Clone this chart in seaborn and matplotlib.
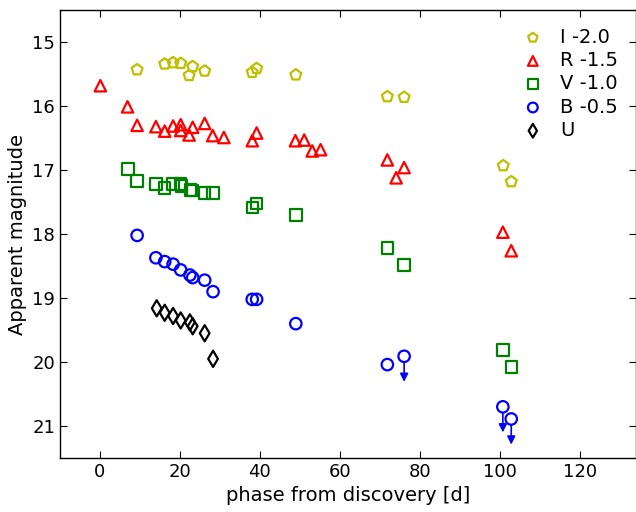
import numpy as np
import pandas as pd
import matplotlib
matplotlib.use('Agg')
import matplotlib.pyplot as plt
import seaborn as sns

# Photometry (offset magnitudes)
i_phase = [9.3, 16.2, 18.3, 20.2, 23.2, 22.3, 26.2, 38.1, 39.2, 49.0, 71.9, 76.1, 100.9, 102.9]
i_mag = [15.43, 15.34, 15.32, 15.33, 15.38, 15.52, 15.45, 15.47, 15.41, 15.51, 15.85, 15.86, 16.93, 17.18]

r_phase = [0.1, 6.9, 9.3, 14.0, 16.2, 18.3, 20.2, 20.2, 23.2, 22.3, 26.2, 28.2, 31.0, 38.1, 39.2,
           48.9, 51.1, 53.1, 55.2, 71.9, 76.1, 74.1, 100.8, 102.9]
r_mag = [15.68, 16.01, 16.30, 16.32, 16.39, 16.31, 16.29, 16.38, 16.33, 16.45, 16.27, 16.46, 16.49,
         16.54, 16.42, 16.54, 16.53, 16.70, 16.68, 16.84, 16.96, 17.12, 17.97, 18.26]

v_phase = [7.0, 9.3, 14.0, 16.1, 18.3, 20.2, 20.4, 22.7, 23.2, 26.1, 28.3, 38.1, 39.2, 49.0,
           71.9, 76.1, 100.8, 102.9]
v_mag = [16.98, 17.17, 17.22, 17.28, 17.22, 17.22, 17.25, 17.31, 17.32, 17.36, 17.36, 17.58, 17.52,
         17.70, 18.22, 18.48, 19.81, 20.08]

b_phase = [9.3, 14.0, 16.2, 18.3, 20.2, 22.5, 23.2, 26.2, 28.3, 38.1, 39.2, 49.0, 71.9]
b_mag = [18.02, 18.37, 18.43, 18.47, 18.56, 18.64, 18.68, 18.72, 18.90, 19.02, 19.02, 19.40, 20.04]

# B-band upper limits
b_lim_phase = [76.1, 100.8, 102.9]
b_lim_mag = [19.91, 20.70, 20.89]

u_phase = [14.2, 16.2, 18.3, 20.2, 22.5, 23.2, 26.2, 28.3]
u_mag = [19.16, 19.23, 19.28, 19.35, 19.38, 19.44, 19.55, 19.95]

sns.set_style('ticks')
plt.rcParams.update({
    'font.family': ['DejaVu Sans'],
    'xtick.direction': 'in', 'ytick.direction': 'in',
    'xtick.top': True, 'ytick.right': True,
    'xtick.major.size': 5, 'ytick.major.size': 5,
    'xtick.color': 'black', 'ytick.color': 'black',
    'xtick.labelcolor': 'black', 'ytick.labelcolor': 'black',
    'axes.labelcolor': 'black', 'text.color': 'black',
    'axes.linewidth': 1.0,
    'axes.edgecolor': 'black',
})

fig = plt.figure(figsize=(6.36, 5.12), dpi=100)
ax = fig.add_axes([0.0943, 0.1055, 0.905, 0.8745])

bands = [
    ('I -2.0', i_phase, i_mag, 'p', (0.75, 0.75, 0.0)),
    ('R -1.5', r_phase, r_mag, '^', 'red'),
    ('V -1.0', v_phase, v_mag, 's', (0.0, 0.5, 0.0)),
    ('B -0.5', b_phase + b_lim_phase, b_mag + b_lim_mag, 'o', 'blue'),
    ('U', u_phase, u_mag, 'd', 'black'),
]

ax.set_xlim(-10, 134)
ax.set_ylim(21.5, 14.5)

# upper-limit arrows
for x, y in zip(b_lim_phase, b_lim_mag):
    ax.annotate('', xy=(x, y + 0.4), xytext=(x, y + 0.09),
                arrowprops=dict(arrowstyle='-|>', color='blue', lw=1.2,
                                mutation_scale=12, shrinkA=0, shrinkB=0))

for label, ph, mag, mk, col in bands:
    df = pd.DataFrame({'phase': ph, 'mag': mag})
    sns.scatterplot(data=df, x='phase', y='mag', ax=ax, marker=mk, s=68,
                    facecolors='none', edgecolor=col, linewidth=1.6, label=label)

ax.set_xticks([0, 20, 40, 60, 80, 100, 120])
ax.set_yticks([15, 16, 17, 18, 19, 20, 21])
ax.tick_params(labelsize=13)
ax.set_xlabel('phase from discovery [d]', fontsize=14)
ax.set_ylabel('Apparent magnitude', fontsize=14)

leg = ax.legend(loc='upper right', frameon=False, fontsize=14, handletextpad=0.4,
                labelspacing=0.22, borderaxespad=0.5, markerscale=0.85)

plt.savefig('out.png', dpi=100)
plt.close()
